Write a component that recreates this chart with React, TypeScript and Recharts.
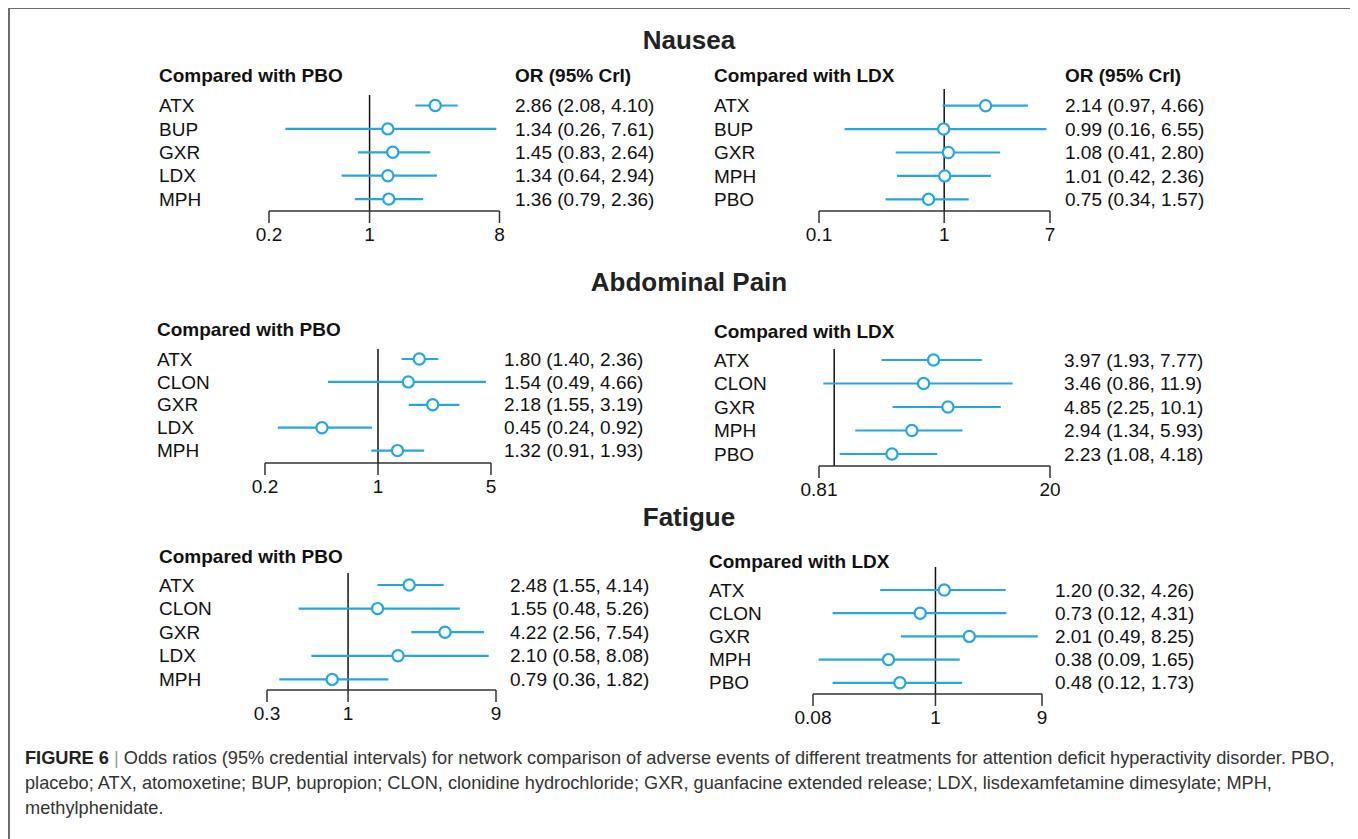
import React from 'react';
import { ScatterChart, Scatter, XAxis, YAxis, ReferenceLine, ErrorBar } from 'recharts';

const BLUE = '#25a6e0';
const FONT = '"Liberation Sans", Arial, Helvetica, sans-serif';

// Nausea, compared with PBO
const nauseaPboNames = ['ATX', 'BUP', 'GXR', 'LDX', 'MPH'];
const nauseaPboOr = [2.86, 1.34, 1.45, 1.34, 1.36];
const nauseaPboLow = [2.08, 0.26, 0.83, 0.64, 0.79];
const nauseaPboHigh = [4.1, 7.61, 2.64, 2.94, 2.36];
const nauseaPboTicks = [0.2, 1, 8];

// Nausea, compared with LDX
const nauseaLdxNames = ['ATX', 'BUP', 'GXR', 'MPH', 'PBO'];
const nauseaLdxOr = [2.14, 0.99, 1.08, 1.01, 0.75];
const nauseaLdxLow = [0.97, 0.16, 0.41, 0.42, 0.34];
const nauseaLdxHigh = [4.66, 6.55, 2.8, 2.36, 1.57];
const nauseaLdxTicks = [0.1, 1, 7];

// Abdominal pain, compared with PBO
const abdPboNames = ['ATX', 'CLON', 'GXR', 'LDX', 'MPH'];
const abdPboOr = [1.8, 1.54, 2.18, 0.45, 1.32];
const abdPboLow = [1.4, 0.49, 1.55, 0.24, 0.91];
const abdPboHigh = [2.36, 4.66, 3.19, 0.92, 1.93];
const abdPboTicks = [0.2, 1, 5];

// Abdominal pain, compared with LDX
const abdLdxNames = ['ATX', 'CLON', 'GXR', 'MPH', 'PBO'];
const abdLdxOr = [3.97, 3.46, 4.85, 2.94, 2.23];
const abdLdxLow = [1.93, 0.86, 2.25, 1.34, 1.08];
const abdLdxHigh = [7.77, 11.9, 10.1, 5.93, 4.18];
const abdLdxTicks = [0.81, 20];

// Fatigue, compared with PBO
const fatPboNames = ['ATX', 'CLON', 'GXR', 'LDX', 'MPH'];
const fatPboOr = [2.48, 1.55, 4.22, 2.1, 0.79];
const fatPboLow = [1.55, 0.48, 2.56, 0.58, 0.36];
const fatPboHigh = [4.14, 5.26, 7.54, 8.08, 1.82];
const fatPboTicks = [0.3, 1, 9];

// Fatigue, compared with LDX
const fatLdxNames = ['ATX', 'CLON', 'GXR', 'MPH', 'PBO'];
const fatLdxOr = [1.2, 0.73, 2.01, 0.38, 0.48];
const fatLdxLow = [0.32, 0.12, 0.49, 0.09, 0.12];
const fatLdxHigh = [4.26, 4.31, 8.25, 1.65, 1.73];
const fatLdxTicks = [0.08, 1, 9];

const fmt = (v: number) => (v >= 10 ? v.toFixed(1) : v.toFixed(2));

type PanelProps = {
  names: string[];
  or: number[];
  low: number[];
  high: number[];
  ticks: number[];
  header: string;
  showOr?: boolean;
  // layout, page pixels
  labelX: number;
  valueX: number;
  headerY: number;
  pxMin: number;
  pxMax: number;
  plotTop: number;
  axisY: number;
  row0: number;
  rowGap: number;
};

function Panel(p: PanelProps) {
  const data = p.names.map((name, i) => ({
    name,
    y: i,
    or: p.or[i],
    err: [p.or[i] - p.low[i], p.high[i] - p.or[i]],
    label: `${fmt(p.or[i])} (${fmt(p.low[i])}, ${fmt(p.high[i])})`,
  }));

  const svgLeft = p.labelX;
  const svgRight = p.valueX + 170;
  const padTop = 10;
  const axisH = 42;
  const width = svgRight - svgLeft;
  const height = p.axisY - p.plotTop + padTop + axisH;
  const yMin = -(p.row0 - p.plotTop) / p.rowGap;
  const yMax = yMin + (p.axisY - p.plotTop) / p.rowGap;
  const domain = [p.ticks[0], p.ticks[p.ticks.length - 1]];

  const RowTick = (t: any) => {
    const row = data[t.payload.value];
    if (!row) return null;
    return (
      <g>
        <text x={0} y={t.y} dy="0.35em" textAnchor="start" fontSize={19} fill="#111" fontFamily={FONT}>
          {row.name}
        </text>
        <text x={p.valueX - svgLeft} y={t.y} dy="0.35em" textAnchor="start" fontSize={19} fill="#111" fontFamily={FONT}>
          {row.label}
        </text>
      </g>
    );
  };

  return (
    <>
      <div
        style={{
          position: 'absolute',
          left: p.labelX - 8,
          top: p.headerY - 8 - 11,
          lineHeight: '22px',
          fontSize: 19,
          fontWeight: 'bold',
          color: '#111',
          whiteSpace: 'nowrap',
        }}
      >
        {p.header}
      </div>
      {p.showOr && (
        <div
          style={{
            position: 'absolute',
            left: p.valueX - 8,
            top: p.headerY - 8 - 11,
            lineHeight: '22px',
            fontSize: 19,
            fontWeight: 'bold',
            color: '#111',
            whiteSpace: 'nowrap',
          }}
        >
          OR (95% CrI)
        </div>
      )}
      <div style={{ position: 'absolute', left: svgLeft - 8, top: p.plotTop - padTop - 8 }}>
        <ScatterChart
          width={width}
          height={height}
          margin={{ top: padTop, right: svgRight - p.pxMax, bottom: 0, left: 0 }}
        >
          <XAxis
            type="number"
            dataKey="or"
            scale="log"
            domain={domain}
            ticks={p.ticks}
            interval={0}
            allowDataOverflow
            height={axisH}
            tickSize={12}
            tickMargin={5}
            tickFormatter={(v: number) => String(v)}
            tick={{ fontSize: 19, fill: '#111', fontFamily: FONT }}
            axisLine={{ stroke: '#333', strokeWidth: 1.5 }}
            tickLine={{ stroke: '#333', strokeWidth: 1.5 }}
          />
          <YAxis
            type="number"
            dataKey="y"
            reversed
            domain={[yMin, yMax]}
            ticks={[0, 1, 2, 3, 4]}
            interval={0}
            allowDataOverflow
            width={p.pxMin - p.labelX}
            axisLine={false}
            tickLine={false}
            tick={RowTick}
          />
          <ReferenceLine x={1} stroke="#111" strokeWidth={1.5} />
          <Scatter
            data={data}
            isAnimationActive={false}
            shape={(s: any) => (
              <circle cx={s.cx} cy={s.cy} r={5.6} fill="#fff" stroke={BLUE} strokeWidth={2.2} />
            )}
          >
            <ErrorBar
              dataKey="err"
              direction="x"
              width={0}
              stroke={BLUE}
              strokeWidth={2.2}
              isAnimationActive={false}
            />
          </Scatter>
        </ScatterChart>
      </div>
    </>
  );
}

const Title = ({ text, y }: { text: string; y: number }) => (
  <div
    style={{
      position: 'absolute',
      left: 689 - 8 - 300,
      width: 600,
      top: y - 8 - 15,
      lineHeight: '30px',
      textAlign: 'center',
      fontSize: 26,
      fontWeight: 'bold',
      color: '#222',
    }}
  >
    {text}
  </div>
);

export default function App() {
  return (
    <div
      style={{
        position: 'relative',
        width: 1347,
        height: 831,
        overflow: 'hidden',
        fontFamily: FONT,
        background: '#fff',
      }}
    >
      <style>{'html,body{overflow:hidden}'}</style>
      <div
        style={{
          position: 'absolute',
          left: 0,
          top: 0,
          width: 1347,
          height: 900,
          boxSizing: 'border-box',
          borderTop: '1px solid #6b6b6b',
          borderLeft: '2px solid #6b6b6b',
          borderRight: '1px solid #6b6b6b',
        }}
      />
      <Title text="Nausea" y={40} />
      <Title text="Abdominal Pain" y={282} />
      <Title text="Fatigue" y={517} />

      <Panel
        names={nauseaPboNames} or={nauseaPboOr} low={nauseaPboLow} high={nauseaPboHigh}
        ticks={nauseaPboTicks} header="Compared with PBO" showOr
        labelX={159} valueX={515} headerY={76} pxMin={269} pxMax={499.5}
        plotTop={95} axisY={211} row0={105.5} rowGap={23.4}
      />
      <Panel
        names={nauseaLdxNames} or={nauseaLdxOr} low={nauseaLdxLow} high={nauseaLdxHigh}
        ticks={nauseaLdxTicks} header="Compared with LDX" showOr
        labelX={714} valueX={1065} headerY={76} pxMin={819} pxMax={1050}
        plotTop={89} axisY={211} row0={105.7} rowGap={23.4}
      />
      <Panel
        names={abdPboNames} or={abdPboOr} low={abdPboLow} high={abdPboHigh}
        ticks={abdPboTicks} header="Compared with PBO"
        labelX={157} valueX={504} headerY={330} pxMin={265} pxMax={491}
        plotTop={349} axisY={463} row0={359} rowGap={22.9}
      />
      <Panel
        names={abdLdxNames} or={abdLdxOr} low={abdLdxLow} high={abdLdxHigh}
        ticks={abdLdxTicks} header="Compared with LDX"
        labelX={714} valueX={1064} headerY={332} pxMin={819} pxMax={1050}
        plotTop={349} axisY={466} row0={360} rowGap={23.5}
      />
      <Panel
        names={fatPboNames} or={fatPboOr} low={fatPboLow} high={fatPboHigh}
        ticks={fatPboTicks} header="Compared with PBO"
        labelX={159} valueX={510} headerY={557} pxMin={267} pxMax={496}
        plotTop={573} axisY={690} row0={585} rowGap={23.6}
      />
      <Panel
        names={fatLdxNames} or={fatLdxOr} low={fatLdxLow} high={fatLdxHigh}
        ticks={fatLdxTicks} header="Compared with LDX"
        labelX={709} valueX={1055} headerY={562} pxMin={813} pxMax={1042}
        plotTop={567} axisY={694} row0={590} rowGap={23.2}
      />

      <div
        style={{
          position: 'absolute',
          left: 25 - 8,
          top: 758 - 8 - 12.5,
          fontSize: 18.2,
          lineHeight: '25px',
          color: '#333',
          whiteSpace: 'nowrap',
        }}
      >
        <div>
          <b style={{ color: '#222' }}>FIGURE 6</b>
          <span style={{ color: '#999' }}> | </span>
          Odds ratios (95% credential intervals) for network comparison of adverse events of different
          treatments for attention deficit hyperactivity disorder. PBO,
        </div>
        <div>
          placebo; ATX, atomoxetine; BUP, bupropion; CLON, clonidine hydrochloride; GXR, guanfacine
          extended release; LDX, lisdexamfetamine dimesylate; MPH,
        </div>
        <div>methylphenidate.</div>
      </div>
    </div>
  );
}
